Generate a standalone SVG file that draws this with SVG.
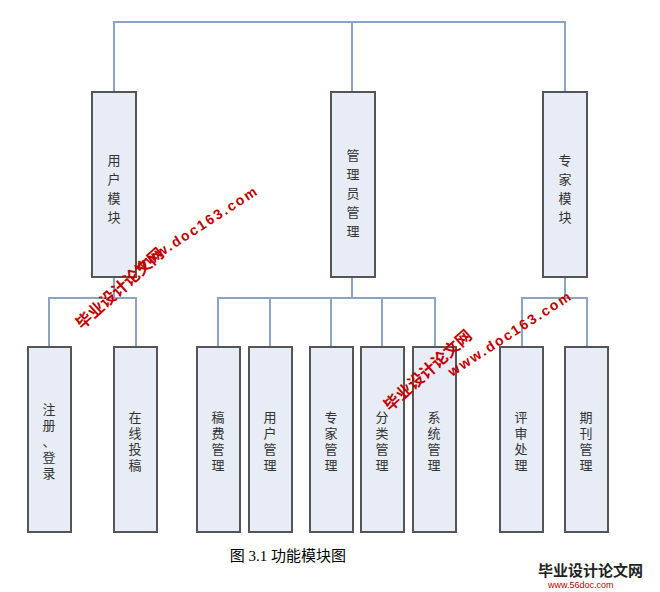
<svg xmlns="http://www.w3.org/2000/svg" width="660" height="592" viewBox="0 0 660 592">
<style>
.b{fill:#e7ecf6;stroke:#555;stroke-width:2}
.t{font-family:"Liberation Serif","Noto Sans CJK SC",serif;font-size:13px;fill:#333;text-anchor:middle}
.c{fill:none;stroke:#8da3c4;stroke-width:2}
.w{font-family:"Liberation Sans","Noto Sans CJK SC",sans-serif;font-weight:bold;fill:#c00000}
</style>
<rect width="660" height="592" fill="#fff"/>
<g id="connectors" class="c">
<path d="M114 92V22H565V92M352 22V92"/>
<path d="M114 277V298M49 347V298H136V347"/>
<path d="M352 277V298M218 347V298H435V347M270 298V347M331 298V347M382 298V347"/>
<path d="M565 277V298M522 347V298H587V347"/>
</g>
<g id="n1"><rect class="b" x="92" y="92" width="44" height="185"/><text class="t" x="114"><tspan x="114" y="165">用</tspan><tspan x="114" y="184">户</tspan><tspan x="114" y="203">模</tspan><tspan x="114" y="222">块</tspan></text></g>
<g id="n2"><rect class="b" x="331" y="92" width="44" height="185"/><text class="t"><tspan x="353" y="160">管</tspan><tspan x="353" y="179">理</tspan><tspan x="353" y="198">员</tspan><tspan x="353" y="217">管</tspan><tspan x="353" y="236">理</tspan></text></g>
<g id="n3"><rect class="b" x="543" y="92" width="44" height="185"/><text class="t"><tspan x="565" y="165">专</tspan><tspan x="565" y="184">家</tspan><tspan x="565" y="203">模</tspan><tspan x="565" y="222">块</tspan></text></g>
<g id="n4"><rect class="b" x="28" y="347" width="43" height="185"/><text class="t"><tspan x="49" y="414">注</tspan><tspan x="49" y="430">册</tspan><tspan x="49" y="446">、</tspan><tspan x="49" y="462">登</tspan><tspan x="49" y="478">录</tspan></text></g>
<g id="n5"><rect class="b" x="114" y="347" width="43" height="185"/><text class="t"><tspan x="135" y="422">在</tspan><tspan x="135" y="438">线</tspan><tspan x="135" y="454">投</tspan><tspan x="135" y="470">稿</tspan></text></g>
<g id="n6"><rect class="b" x="197" y="347" width="43" height="185"/><text class="t"><tspan x="218" y="422">稿</tspan><tspan x="218" y="438">费</tspan><tspan x="218" y="454">管</tspan><tspan x="218" y="470">理</tspan></text></g>
<g id="n7"><rect class="b" x="249" y="347" width="43" height="185"/><text class="t"><tspan x="270" y="422">用</tspan><tspan x="270" y="438">户</tspan><tspan x="270" y="454">管</tspan><tspan x="270" y="470">理</tspan></text></g>
<g id="n8"><rect class="b" x="310" y="347" width="43" height="185"/><text class="t"><tspan x="331" y="422">专</tspan><tspan x="331" y="438">家</tspan><tspan x="331" y="454">管</tspan><tspan x="331" y="470">理</tspan></text></g>
<g id="n9"><rect class="b" x="361" y="347" width="43" height="185"/><text class="t"><tspan x="382" y="422">分</tspan><tspan x="382" y="438">类</tspan><tspan x="382" y="454">管</tspan><tspan x="382" y="470">理</tspan></text></g>
<g id="n10"><rect class="b" x="413" y="347" width="43" height="185"/><text class="t"><tspan x="434" y="422">系</tspan><tspan x="434" y="438">统</tspan><tspan x="434" y="454">管</tspan><tspan x="434" y="470">理</tspan></text></g>
<g id="n11"><rect class="b" x="500" y="347" width="43" height="185"/><text class="t"><tspan x="521" y="422">评</tspan><tspan x="521" y="438">审</tspan><tspan x="521" y="454">处</tspan><tspan x="521" y="470">理</tspan></text></g>
<g id="n12"><rect class="b" x="565" y="347" width="43" height="185"/><text class="t"><tspan x="586" y="422">期</tspan><tspan x="586" y="438">刊</tspan><tspan x="586" y="454">管</tspan><tspan x="586" y="470">理</tspan></text></g>
<text x="288" y="561" style="font-family:'Liberation Serif','Noto Sans CJK SC',serif;font-size:15px;text-anchor:middle;fill:#000">图 3.1 功能模块图</text>
<g id="watermarks">
<text class="w" font-size="16" transform="translate(82,330) rotate(-42)">毕业设计论文网</text>
<text class="w" font-size="14" letter-spacing="2" transform="translate(138,272) rotate(-33)">www.doc163.com</text>
<text class="w" font-size="16" transform="translate(390,412) rotate(-42)">毕业设计论文网</text>
<text class="w" font-size="14" letter-spacing="2" transform="translate(452,377) rotate(-33)">www.doc163.com</text>
<text x="538" y="576" style="font-family:'Noto Sans CJK SC',sans-serif;font-weight:bold;font-size:15px;fill:#222">毕业设计论文网</text>
<text x="548" y="588" style="font-family:'Liberation Sans',sans-serif;font-size:9px;fill:#c00000">www.56doc.com</text>
</g>
</svg>
